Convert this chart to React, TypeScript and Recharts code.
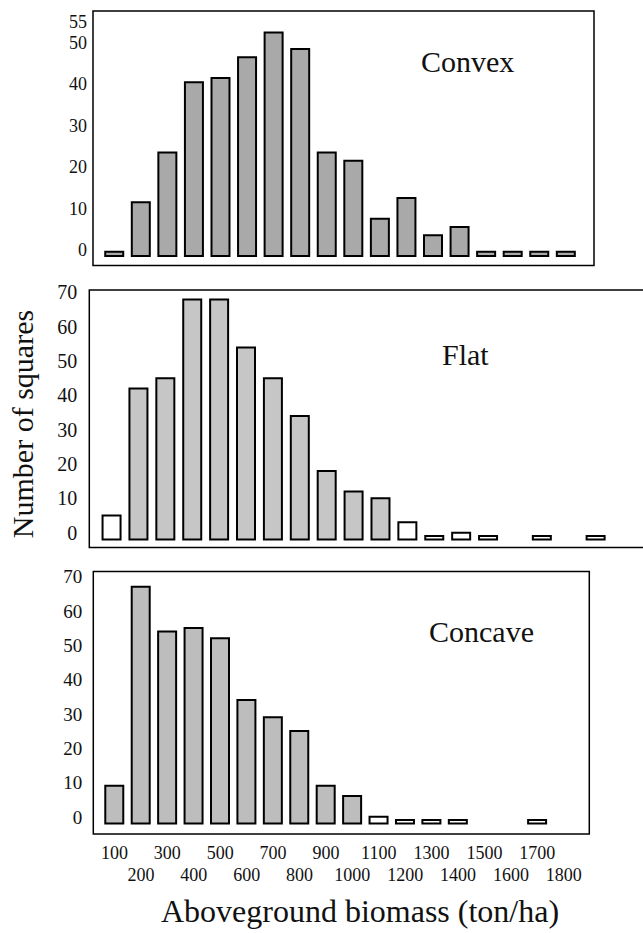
import React from 'react';
import { BarChart, Bar, XAxis, YAxis, ReferenceArea, Cell } from 'recharts';

const FONT = '"Liberation Serif", "Times New Roman", serif';

// biomass classes (ton/ha)
const BINS = [100, 200, 300, 400, 500, 600, 700, 800, 900, 1000, 1100, 1200, 1300, 1400, 1500, 1600, 1700, 1800];
const BINS_FLAT = [...BINS, 1900];

// number of squares per class
const CONVEX = [1, 13, 25, 42, 43, 48, 54, 50, 25, 23, 9, 14, 5, 7, 1, 1, 1, 1];
const FLAT = [7, 44, 47, 70, 70, 56, 47, 36, 20, 14, 12, 5, 1, 2, 1, 0, 1, 0, 1];
const CONCAVE = [11, 69, 56, 57, 54, 36, 31, 27, 11, 8, 2, 1, 1, 1, 0, 0, 1, 0];

const Y_TICKS_CONVEX = [0, 10, 20, 30, 40, 50, 55];
const Y_TICKS = [0, 10, 20, 30, 40, 50, 60, 70];
const X_TICKS = BINS;

const toRows = (bins: number[], counts: number[]) =>
    bins.map((bin, i) => ({ bin, count: counts[i] }));

const YTick = (props: any) => {
    const { x, y, payload, gap, size } = props;
    return (
        <text x={x - gap} y={y} textAnchor="end" fontFamily={FONT} fontSize={size} fill="#111">
            {payload.value}
        </text>
    );
};

const XTick = (props: any) => {
    const { x, y, payload } = props;
    const lower = (payload.value / 100) % 2 === 0;
    return (
        <text x={x} y={y + (lower ? 47 : 25)} textAnchor="middle" fontFamily={FONT} fontSize={18} fill="#111">
            {payload.value}
        </text>
    );
};

interface PanelProps {
    top: number;
    width: number;
    height: number;
    rows: { bin: number; count: number }[];
    margin: { top: number; right: number; bottom: number; left: number };
    xDomain: [number, number];
    yDomain: [number, number];
    yTicks: number[];
    tickGap: number;
    tickSize: number;
    fill: string;
    hollowBelow: number;
    showX?: boolean;
    children?: React.ReactNode;
}

const Panel = ({ top, width, height, rows, margin, xDomain, yDomain, yTicks, tickGap, tickSize, fill, hollowBelow, showX, children }: PanelProps) => (
    <div style={{ position: 'absolute', left: 0, top }}>
        <BarChart width={width} height={height} data={rows} margin={margin}>
            <XAxis
                dataKey="bin"
                type="number"
                domain={xDomain}
                allowDataOverflow
                hide={!showX}
                ticks={X_TICKS}
                interval={0}
                axisLine={false}
                tickLine={false}
                tickSize={0}
                tickMargin={0}
                height={55}
                tick={<XTick />}
            />
            <YAxis
                type="number"
                domain={yDomain}
                allowDataOverflow
                ticks={yTicks}
                interval={0}
                width={40}
                axisLine={false}
                tickLine={false}
                tickSize={0}
                tickMargin={0}
                tick={<YTick gap={tickGap} size={tickSize} />}
            />
            <Bar dataKey="count" barSize={18} stroke="#000" strokeWidth={2} isAnimationActive={false}>
                {rows.map((r, i) => (
                    <Cell key={i} fill={r.count < hollowBelow ? '#ffffff' : fill} />
                ))}
            </Bar>
            <ReferenceArea
                x1={xDomain[0]}
                x2={xDomain[1]}
                y1={yDomain[0]}
                y2={yDomain[1]}
                fill="none"
                stroke="#000"
                strokeWidth={1.5}
                ifOverflow="visible"
            />
            {children}
        </BarChart>
    </div>
);

const nameStyle = { fontFamily: FONT, fontSize: 30, fill: '#111' };

export default function App() {
    return (
        <div style={{ position: 'absolute', left: 0, top: 0, width: 643, height: 933, overflow: 'hidden', background: '#fff' }}>
            <Panel
                top={0}
                width={643}
                height={280}
                rows={toRows(BINS, CONVEX)}
                margin={{ top: 11, right: 49, bottom: 14.5, left: 53 }}
                xDomain={[19, 1905]}
                yDomain={[-2.3, 59.2]}
                yTicks={Y_TICKS_CONVEX}
                tickGap={6}
                tickSize={18}
                fill="#a9a9a9"
                hollowBelow={0}
            >
                <text x={421} y={72} style={nameStyle}>Convex</text>
            </Panel>
            <Panel
                top={280}
                width={660}
                height={280}
                rows={toRows(BINS_FLAT, FLAT)}
                margin={{ top: 10, right: 8, bottom: 12.5, left: 49.3 }}
                xDomain={[15.6, 2108]}
                yDomain={[-2.33, 72.74]}
                yTicks={Y_TICKS}
                tickGap={12}
                tickSize={20}
                fill="#c6c6c6"
                hollowBelow={8}
            >
                <text x={442} y={85} style={nameStyle}>Flat</text>
                <text
                    x={33}
                    y={144}
                    transform="rotate(-90, 33, 144)"
                    textAnchor="middle"
                    style={nameStyle}
                >
                    Number of squares
                </text>
            </Panel>
            <Panel
                top={560}
                width={643}
                height={373}
                rows={toRows(BINS, CONCAVE)}
                margin={{ top: 11.5, right: 53.7, bottom: 44, left: 53.3 }}
                xDomain={[19.8, 1896.7]}
                yDomain={[-3.06, 73.47]}
                yTicks={Y_TICKS}
                tickGap={11}
                tickSize={19}
                fill="#bdbdbd"
                hollowBelow={3}
                showX
            >
                <text x={429} y={82} style={nameStyle}>Concave</text>
                <text x={360} y={362} textAnchor="middle" style={{ ...nameStyle, fontSize: 32 }}>
                    Aboveground biomass (ton/ha)
                </text>
            </Panel>
        </div>
    );
}
